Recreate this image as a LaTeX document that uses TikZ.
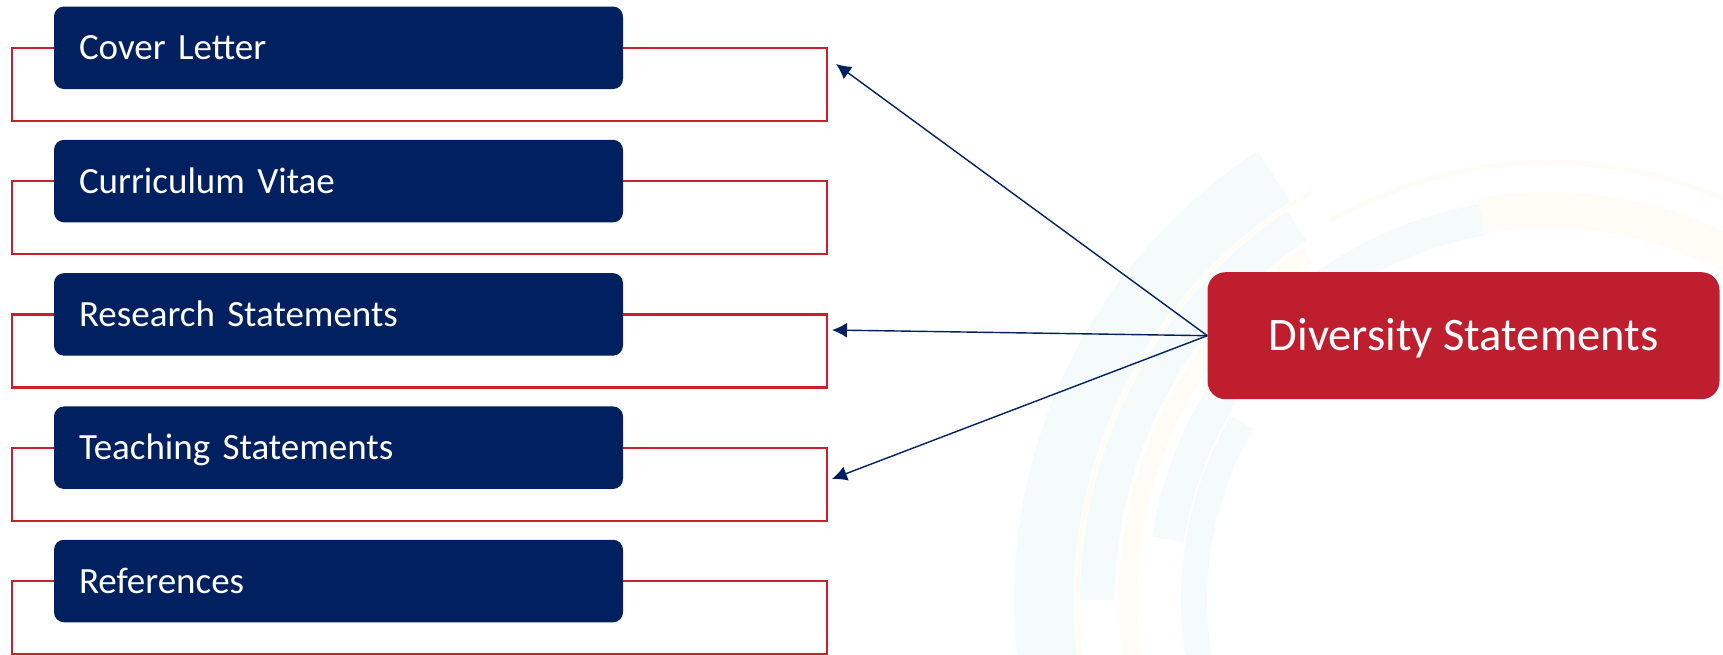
\documentclass[tikz,border=0pt]{standalone}
\usepackage{fontspec}
\setmainfont{Carlito}
\usetikzlibrary{arrows.meta,calc}
\definecolor{navy}{HTML}{002060}
\definecolor{dred}{HTML}{BE1E2D}
\definecolor{lred}{HTML}{C8202F}
\definecolor{bgcyan}{HTML}{F5FAFA}
\definecolor{bgcream}{HTML}{FFFBF5}
\newcommand{\bgband}[5]{%
  \fill[#1] ($(C)+(#4:#3)$) arc[start angle=#4, end angle=#5, radius=#3]
    -- ($(C)+(#5:#2)$) arc[start angle=#5, end angle=#4, radius=#2] -- cycle;}
\tikzset{
  doc/.style={fill=navy, rounded corners=10pt, minimum width=569pt,
    minimum height=82.5pt, text width=519pt, align=left, inner xsep=25pt,
    inner ysep=0pt, text=white, font=\fontsize{37}{44}\selectfont,
    text height=24pt, text depth=0pt},
  divbox/.style={fill=dred, rounded corners=18pt, minimum width=512pt,
    minimum height=127pt, inner sep=0pt, text=white,
    font=\fontsize{46.6}{56}\selectfont, text height=30pt, text depth=0pt},
  bracket/.style={draw=lred, line width=2.4pt},
  conn/.style={draw=navy, line width=1.4pt, -{Latex[length=15pt,width=15pt]}}
}
\begin{document}
\begin{tikzpicture}[x=1pt, y=-1pt]
\useasboundingbox (0,0) rectangle (1723,655);
% faint background motif
\begin{scope}
  \clip (0,0) rectangle (1723,655);
  \coordinate (C) at (1549,600);
  \bgband{bgcyan}{475}{535}{-192}{-123}
  \bgband{bgcyan}{434}{469}{-180}{-124}
  \bgband{bgcyan}{370}{402}{-171}{-100}
  \bgband{bgcyan}{342}{368}{-200}{-150}
  \bgband{bgcream}{470}{474}{-192}{-120}
  \bgband{bgcream}{412}{430}{-200}{-125}
  \bgband{bgcream}{435}{440}{-120}{-30}
  \bgband{bgcream}{372}{408}{-100}{-30}
\end{scope}
\coordinate (L) at (12,0);
\coordinate (R) at (827,0);
% document boxes
\node[doc] (b1) at (338.5,47.8) {Cover Letter};
\node[doc] (b2) at (338.5,181.1) {Curriculum Vitae};
\node[doc] (b3) at (338.5,314.4) {Research Statements};
\node[doc] (b4) at (338.5,447.7) {Teaching Statements};
\node[doc] (b5) at (338.5,581.0) {References};
\foreach \i in {1,...,5}{
  \draw[bracket] (b\i.west) -- (b\i.west -| L) -- ++(0,73) -| (b\i.east -| R) -- (b\i.east);
}
% diversity
\node[divbox] (D) at (1463.5,335.7) {Diversity Statements};
\coordinate (t1) at (836,64);
\coordinate (t2) at (832,330);
\coordinate (t3) at (832,479);
\draw[conn] (D.west) -- (t1);
\draw[conn] (D.west) -- (t2);
\draw[conn] (D.west) -- (t3);
\end{tikzpicture}
\end{document}
